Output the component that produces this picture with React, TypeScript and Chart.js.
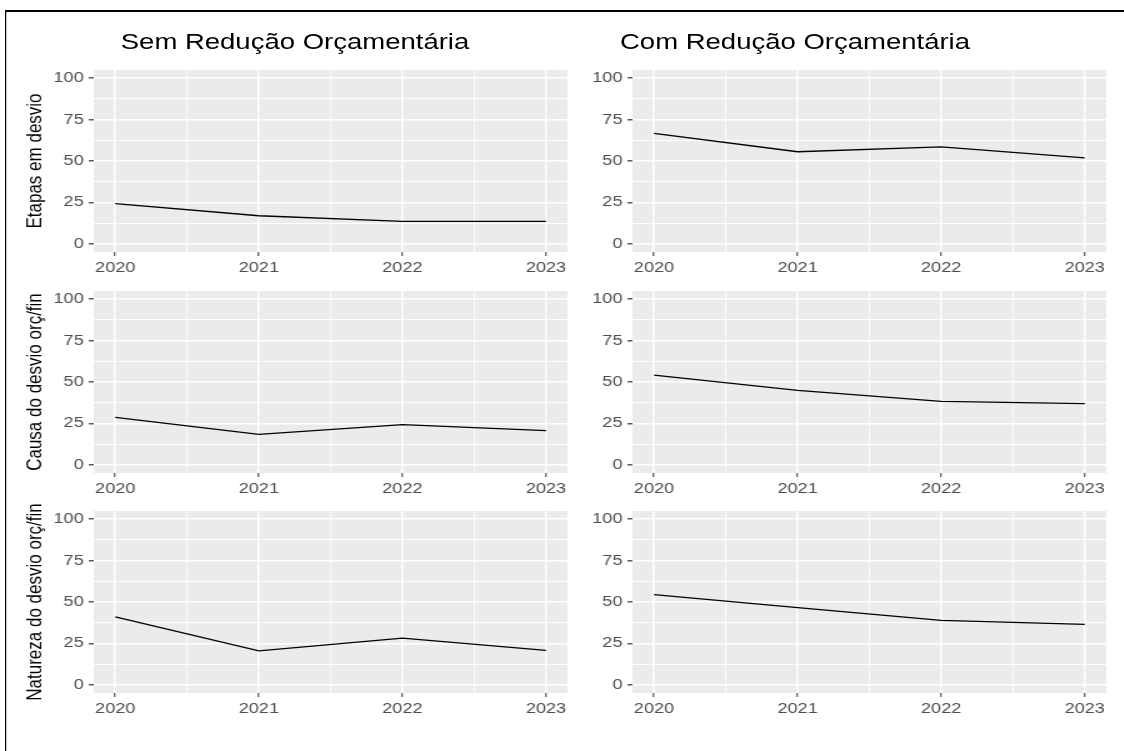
import React, { useEffect, useRef } from 'react';
import { Chart, registerables } from 'chart.js';

Chart.register(...registerables);

// ---------- data ----------
const years = [2020, 2021, 2022, 2023];
const xMinorValues = [2020.5, 2021.5, 2022.5];
const yTickValues = [0, 25, 50, 75, 100];
const yMinorValues = [12.5, 37.5, 62.5, 87.5];
const columnTitles = ['Sem Redução Orçamentária', 'Com Redução Orçamentária'];
const rowTitles = ['Etapas em desvio', 'Causa do desvio orç/fin', 'Natureza do desvio orç/fin'];

const semEtapas = [24.3, 16.9, 13.5, 13.5];
const comEtapas = [66.7, 55.6, 58.5, 51.9];
const semCausa = [28.6, 18.4, 24.2, 20.6];
const comCausa = [54.2, 45.0, 38.3, 36.9];
const semNatureza = [41.0, 20.5, 28.2, 20.8];
const comNatureza = [54.5, 46.6, 38.9, 36.5];

// ---------- layout ----------
const SX = 1.25; // horizontal stretch of the original picture
const W = 1124 / SX;
const FONT = '"Liberation Sans", Arial, Helvetica, sans-serif';
const PAD_TOP = 20;
const PLOT_W = 379;
const PLOT_H = 182;
const X_AXIS_H = 30;
const PAD_RIGHT = 12;
const ROW_TOPS = [70, 291, 511];
const COLS = [
  { left: 0, yWidth: 75, center: 236 },
  { left: 466, yWidth: 40, center: 636 },
];

const bgPlugin = {
  id: 'panelBg',
  beforeDraw(chart: any) {
    const { ctx, chartArea } = chart;
    ctx.save();
    ctx.fillStyle = '#EBEBEB';
    ctx.fillRect(chartArea.left, chartArea.top, chartArea.right - chartArea.left, chartArea.bottom - chartArea.top);
    ctx.restore();
  },
};

const isMajorY = (v: number) => yTickValues.includes(v);
const isMajorX = (v: number) => years.includes(v);

type PanelProps = { values: number[]; yTitle?: string; left: number; top: number; yWidth: number };

function Panel({ values, yTitle, left, top, yWidth }: PanelProps) {
  const ref = useRef<HTMLCanvasElement>(null);
  const w = yWidth + PLOT_W + PAD_RIGHT;
  const h = PAD_TOP + PLOT_H + X_AXIS_H;
  useEffect(() => {
    if (!ref.current) return;
    const tickFont = { family: FONT, size: 14.5 };
    const chart = new Chart(ref.current, {
      type: 'line',
      data: {
        datasets: [
          {
            data: years.map((x, i) => ({ x, y: values[i] })),
            borderColor: '#000000',
            borderWidth: 1.3,
            pointRadius: 0,
            tension: 0,
            fill: false,
          },
        ],
      },
      options: {
        animation: false,
        responsive: false,
        events: [],
        layout: { padding: { top: PAD_TOP, right: PAD_RIGHT, bottom: 0, left: 0 } },
        plugins: { legend: { display: false }, tooltip: { enabled: false } },
        scales: {
          x: {
            type: 'linear',
            min: 2019.85,
            max: 2023.15,
            afterBuildTicks: (s: any) => {
              s.ticks = [...years, ...xMinorValues].sort((a, b) => a - b).map((v) => ({ value: v }));
            },
            afterFit: (s: any) => {
              s.height = X_AXIS_H;
              s.paddingLeft = 0;
              s.paddingRight = 0;
            },
            ticks: {
              autoSkip: false,
              maxRotation: 0,
              padding: 3,
              color: '#4D4D4D',
              font: tickFont,
              callback: (v: any) => (isMajorX(Number(v)) ? String(v) : ''),
            },
            grid: {
              color: '#FFFFFF',
              lineWidth: (c: any) => (c.tick && isMajorX(c.tick.value) ? 1.5 : 0.9),
              tickColor: (c: any) => (c.tick && isMajorX(c.tick.value) ? '#333333' : 'rgba(0,0,0,0)'),
              tickLength: 4,
              tickWidth: 1,
            },
            border: { display: false },
          },
          y: {
            type: 'linear',
            min: -5,
            max: 105,
            afterBuildTicks: (s: any) => {
              s.ticks = [...yTickValues, ...yMinorValues].sort((a, b) => a - b).map((v) => ({ value: v }));
            },
            afterFit: (s: any) => {
              s.width = yWidth;
              s.paddingTop = 0;
              s.paddingBottom = 0;
            },
            ticks: {
              autoSkip: false,
              padding: 4,
              color: '#4D4D4D',
              font: tickFont,
              callback: (v: any) => (isMajorY(Number(v)) ? String(v) : ''),
            },
            grid: {
              color: '#FFFFFF',
              lineWidth: (c: any) => (c.tick && isMajorY(c.tick.value) ? 1.6 : 1),
              tickColor: (c: any) => (c.tick && isMajorY(c.tick.value) ? '#333333' : 'rgba(0,0,0,0)'),
              tickLength: 4,
              tickWidth: 1.2,
            },
            border: { display: false },
            title: {
              display: !!yTitle,
              text: yTitle || '',
              color: '#000000',
              font: { family: FONT, size: 17 },
              padding: { top: 18, bottom: 0 },
            },
          },
        },
      } as any,
      plugins: [bgPlugin],
    });
    return () => chart.destroy();
  }, []);
  return (
    <canvas
      ref={ref}
      width={w}
      height={h}
      style={{ position: 'absolute', left, top, width: w, height: h }}
    />
  );
}

const grid = [
  [semEtapas, comEtapas],
  [semCausa, comCausa],
  [semNatureza, comNatureza],
];

export default function App() {
  return (
    <div
      style={{
        position: 'absolute',
        left: 0,
        top: 0,
        width: 1124,
        height: 751,
        overflow: 'hidden',
        background: '#FFFFFF',
      }}
    >
      <div
        style={{
          position: 'absolute',
          left: 0,
          top: 0,
          width: W,
          height: 751,
          transform: `scaleX(${SX})`,
          transformOrigin: '0 0',
        }}
      >
        <div
          style={{
            position: 'absolute',
            left: 4,
            top: 10,
            right: -20,
            bottom: -20,
            borderLeft: '1.6px solid #000',
            borderTop: '2px solid #000',
          }}
        />
        {COLS.map((c, i) => (
          <div
            key={'t' + i}
            style={{
              position: 'absolute',
              left: c.center - 200,
              width: 400,
              top: 31,
              textAlign: 'center',
              fontFamily: FONT,
              fontSize: 22,
              lineHeight: '22px',
              color: '#000',
              whiteSpace: 'nowrap',
            }}
          >
            {columnTitles[i]}
          </div>
        ))}
        {grid.map((row, r) =>
          row.map((vals, c) => (
            <Panel
              key={r + '-' + c}
              values={vals}
              yTitle={c === 0 ? rowTitles[r] : undefined}
              left={COLS[c].left}
              top={ROW_TOPS[r] - PAD_TOP}
              yWidth={COLS[c].yWidth}
            />
          ))
        )}
      </div>
    </div>
  );
}
